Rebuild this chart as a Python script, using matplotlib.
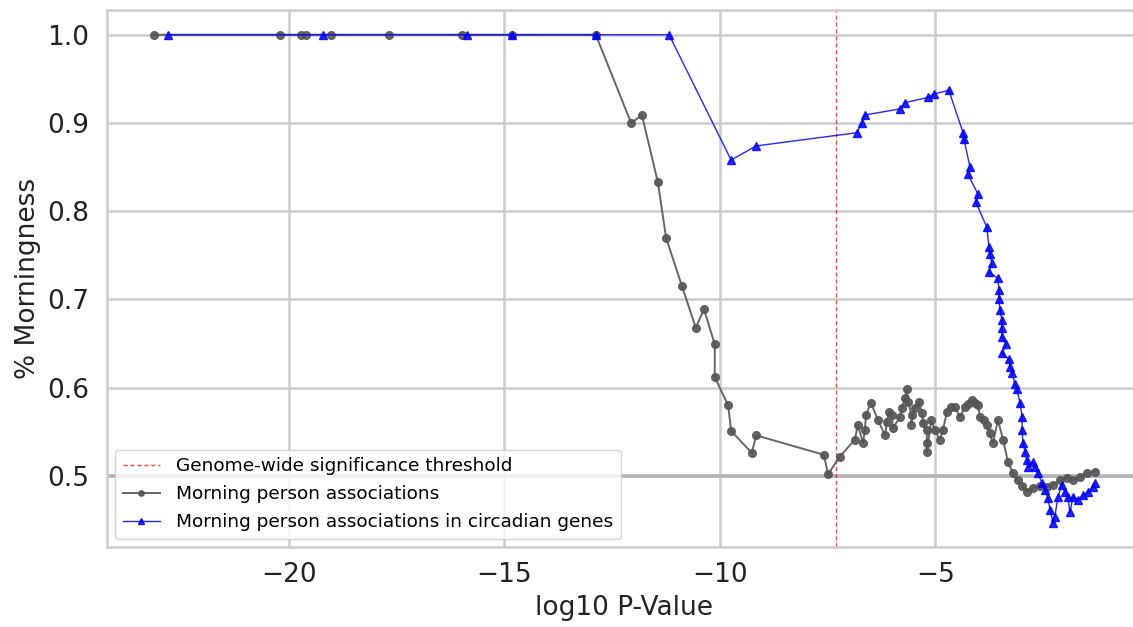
import matplotlib
matplotlib.use("Agg")
import matplotlib.pyplot as plt

# log10 p-value threshold for genome-wide significance (5e-8)
threshold = -7.3

# Morning person associations (all SNPs)
morning_logp = [
    -23.13, -20.21, -19.72, -19.61, -19.03, -17.68, -15.99, -14.83, -12.88,
    -12.06, -11.81, -11.44, -11.25, -10.88, -10.56, -10.37, -10.12, -10.12,
    -9.81, -9.74, -9.26, -9.16, -7.59, -7.49, -7.22,
    -6.87, -6.80, -6.68, -6.64, -6.61, -6.50, -6.33, -6.17, -6.13, -6.08,
    -6.01, -5.99, -5.82, -5.78, -5.71, -5.66, -5.64, -5.55, -5.57, -5.48,
    -5.38, -5.31, -5.29, -5.20, -5.20, -5.20, -5.10, -5.01, -4.90, -4.83,
    -4.73, -4.64, -4.55, -4.43, -4.32, -4.25, -4.15, -4.08, -4.01, -3.97,
    -3.87, -3.81, -3.74, -3.67, -3.55, -3.43, -3.32, -3.20, -3.09, -2.99,
    -2.88, -2.74, -2.58, -2.41, -2.27, -2.11, -1.95, -1.81, -1.65, -1.48,
    -1.30,
]
morning_pct = [
    1.0, 1.0, 1.0, 1.0, 1.0, 1.0, 1.0, 1.0, 1.0,
    0.900, 0.909, 0.833, 0.770, 0.715, 0.668, 0.689, 0.649, 0.612,
    0.580, 0.551, 0.526, 0.546, 0.524, 0.502, 0.522,
    0.541, 0.558, 0.537, 0.552, 0.569, 0.583, 0.563, 0.546, 0.561, 0.573,
    0.569, 0.554, 0.567, 0.577, 0.588, 0.598, 0.584, 0.569, 0.558, 0.577,
    0.584, 0.571, 0.560, 0.552, 0.537, 0.527, 0.563, 0.552, 0.541, 0.552,
    0.573, 0.578, 0.578, 0.567, 0.578, 0.582, 0.586, 0.583, 0.580, 0.567,
    0.563, 0.558, 0.549, 0.537, 0.563, 0.541, 0.516, 0.503, 0.495, 0.489,
    0.482, 0.486, 0.489, 0.488, 0.490, 0.495, 0.498, 0.495, 0.499, 0.503,
    0.505,
]

# Morning person associations restricted to circadian genes
circadian_logp = [
    -22.81, -19.21, -15.87, -14.83, -12.88, -11.18, -9.74, -9.16,
    -6.82, -6.71, -6.64, -5.82, -5.71, -5.17, -5.03, -4.69, -4.36, -4.34,
    -4.20, -4.25, -4.01, -4.06, -3.81, -3.76, -3.74, -3.69, -3.76, -3.55,
    -3.53, -3.53, -3.50, -3.46, -3.46, -3.46, -3.36, -3.46, -3.29, -3.27,
    -3.22, -3.16, -3.11, -3.04, -2.99, -2.99, -2.97, -2.92, -2.88, -2.85,
    -2.74, -2.69, -2.62, -2.53, -2.46, -2.39, -2.34, -2.27, -2.23, -2.16,
    -2.07, -2.00, -1.93, -1.88, -1.81, -1.69, -1.58, -1.46, -1.35, -1.30,
]
circadian_pct = [
    1.0, 1.0, 1.0, 1.0, 1.0, 1.0, 0.858, 0.874,
    0.889, 0.900, 0.909, 0.916, 0.923, 0.929, 0.933, 0.937, 0.889, 0.882,
    0.850, 0.842, 0.819, 0.810, 0.782, 0.760, 0.751, 0.741, 0.731, 0.724,
    0.711, 0.700, 0.688, 0.677, 0.668, 0.658, 0.649, 0.639, 0.632, 0.624,
    0.617, 0.604, 0.598, 0.583, 0.567, 0.552, 0.537, 0.527, 0.518, 0.510,
    0.516, 0.510, 0.503, 0.492, 0.484, 0.475, 0.461, 0.447, 0.454, 0.476,
    0.490, 0.482, 0.476, 0.459, 0.476, 0.473, 0.478, 0.482, 0.488, 0.492,
]

fig = plt.figure(figsize=(11.33, 6.27), dpi=100)
ax = fig.add_axes([0.0944, 0.1276, 0.9135, 0.8564])

# reference line at 50%
ax.axhline(0.5, color="#b4b4b4", lw=2.6, zorder=1)

ax.axvline(threshold, color="red", ls="--", lw=1, alpha=0.75, dashes=(3, 2),
           label="Genome-wide significance threshold", zorder=2)
ax.plot(morning_logp, morning_pct, color="#555555", lw=1.4, marker="o",
        markersize=5.5, alpha=0.9, label="Morning person associations", zorder=3)
ax.plot(circadian_logp, circadian_pct, color="blue", lw=1, marker="^",
        markersize=5.5, alpha=0.85,
        label="Morning person associations in circadian genes", zorder=4)

ax.set_xlim(-24.22, -0.21)
ax.set_ylim(0.4195, 1.028)
ax.set_xticks([-20, -15, -10, -5])
ax.set_yticks([0.5, 0.6, 0.7, 0.8, 0.9, 1.0])

ax.grid(True, color="#cccccc", lw=1.8)
ax.set_axisbelow(True)
for s in ax.spines.values():
    s.set_color("#cccccc")
    s.set_linewidth(1.8)

ax.tick_params(axis="x", length=0, pad=11, labelsize=19, labelcolor="#222222")
ax.tick_params(axis="y", length=0, pad=13, labelsize=19, labelcolor="#222222")
ax.set_xlabel("log10 P-Value", fontsize=19, color="#222222", labelpad=5)
ax.set_ylabel("% Morningness", fontsize=19, color="#222222")

leg = ax.legend(loc="lower left", fontsize=13.3, borderaxespad=0.45,
                labelspacing=0.55, handletextpad=0.9, markerscale=0.7,
                framealpha=0.8)
leg.get_frame().set_edgecolor("#cccccc")

fig.savefig("out.png", dpi=100)
